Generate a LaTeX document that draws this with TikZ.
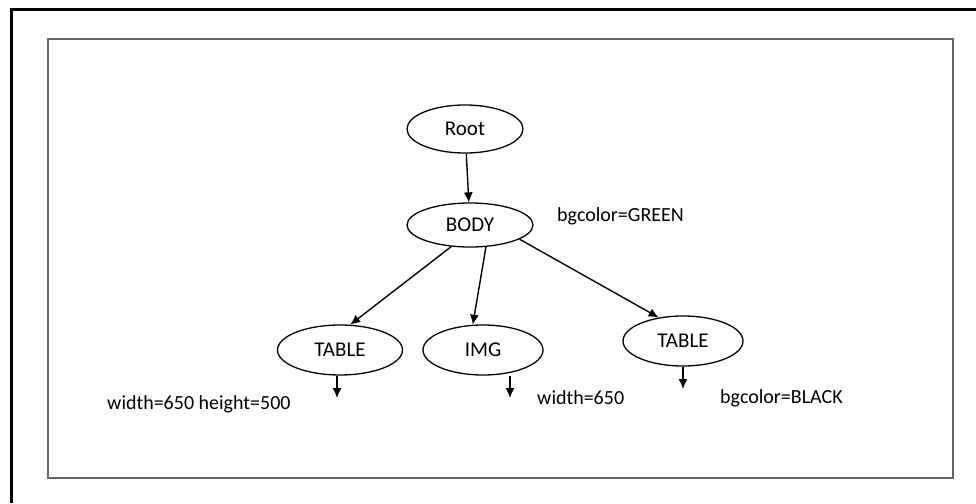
\documentclass[tikz,border=0pt]{standalone}
\usepackage{fontspec}
\setmainfont{Carlito}
\usetikzlibrary{shapes.geometric,arrows.meta}
\tikzset{
  tag/.style={ellipse,draw,line width=1.3pt,inner sep=0pt,minimum width=120pt,minimum height=50pt,font=\fontsize{21}{24}\selectfont},
  attr/.style={anchor=west,inner sep=0pt,font=\fontsize{20}{23}\selectfont}
}
\begin{document}
\begin{tikzpicture}[x=1pt,y=-1pt]
      \useasboundingbox (0,0) rectangle (976,503);
      \draw[line width=3pt] (11.5,503) -- (11.5,9.5) -- (976,9.5);
      \draw[gray!80!black,line width=2.5pt] (48,39) rectangle (953,478);
      \draw
        (465,129) node[tag,minimum width=116pt,minimum height=48pt] (root){Root}
        (470,225) node[tag,minimum width=126pt,minimum height=44pt] (body){BODY}
        (340,350) node[tag,minimum width=125pt] (table1){TABLE}
        (483,350) node[tag,minimum width=120pt] (img){IMG}
        (683,341) node[tag,minimum width=120pt] (table2){TABLE};
      \draw
        (557,216) node[attr] (bgGreen){bgcolor=GREEN}
        (107,404) node[attr] (size1){width=650 height=500}
        (537,398) node[attr] (size2){width=650}
        (720,398) node[attr] (bgBlack){bgcolor=BLACK};
      \coordinate (end1) at (337,398);
      \coordinate (end2) at (510,398);
      \coordinate (end3) at (683,389);
      \begin{scope}[-{Latex[length=10pt,width=9pt]},line width=1.4pt]
        \draw (root) to (body);
        \draw (body.-131) to (table1.68);
        \draw (body.-54) to (img.112);
        \draw (body.-16) to (table2.136);
        \draw (end1 |- table1.south) to (end1);
        \draw (end2 |- img.south) to (end2);
        \draw (end3 |- table2.south) to (end3);
      \end{scope}
    \end{tikzpicture}
\end{document}
